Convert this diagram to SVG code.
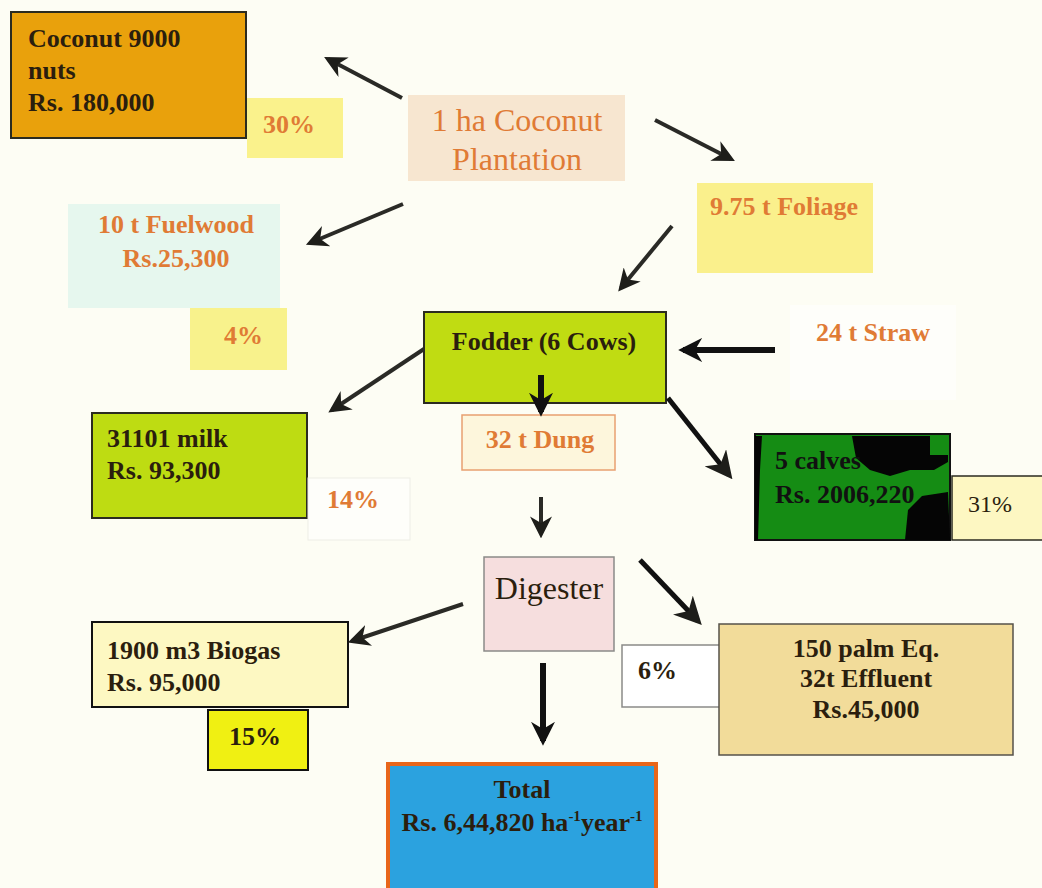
<svg xmlns="http://www.w3.org/2000/svg" width="1042" height="888" viewBox="0 0 1042 888">
<style>
.b{font-family:"Liberation Serif","Times New Roman",serif;font-weight:bold;font-size:26px}
.n{font-family:"Liberation Serif","Times New Roman",serif;font-weight:normal}
.dk{fill:#2B1E0E}
.or{fill:#E07B35}
.con{fill:none;stroke:#2A2A26;stroke-width:4}
.thick{stroke:#111;stroke-width:6}
</style>
<defs>
<marker id="ah" viewBox="0 0 10 10" refX="8" refY="5" markerWidth="5.5" markerHeight="5.5" orient="auto" markerUnits="strokeWidth">
<path d="M0,0 L10,5 L0,10 L3,5 z" fill="#1E1E1A"/>
</marker>
<marker id="ah2" viewBox="0 0 10 10" refX="8" refY="5" markerWidth="4" markerHeight="4" orient="auto" markerUnits="strokeWidth">
<path d="M0,0 L10,5 L0,10 L3,5 z" fill="#111"/>
</marker>
</defs>
<rect width="1042" height="888" fill="#FDFDF4"/>

<g id="coconut">
<rect x="11" y="12" width="235" height="126" fill="#E9A10C" stroke="#2B2B20" stroke-width="2"/>
<text class="b dk" x="28" y="47">Coconut 9000</text>
<text class="b dk" x="28" y="79">nuts</text>
<text class="b dk" x="28" y="111">Rs. 180,000</text>
</g>
<g id="pct30">
<rect x="247" y="98" width="96" height="60" fill="#FAF28C"/>
<text class="b or" x="263" y="133" font-size="24">30%</text>
</g>
<g id="plantation">
<rect x="408" y="95" width="217" height="86" fill="#F7E6D0"/>
<text class="n or" x="517" y="131" font-size="32" text-anchor="middle">1 ha Coconut</text>
<text class="n or" x="517" y="170" font-size="32" text-anchor="middle">Plantation</text>
</g>
<g id="foliage">
<rect x="697" y="183" width="176" height="90" fill="#FAF08C"/>
<text class="b or" x="784" y="215" text-anchor="middle">9.75 t Foliage</text>
</g>
<g id="fuelwood">
<rect x="68" y="204" width="212" height="104" fill="#E6F7EE"/>
<text class="b or" x="176" y="233" text-anchor="middle">10 t Fuelwood</text>
<text class="b or" x="176" y="267" text-anchor="middle">Rs.25,300</text>
</g>
<g id="pct4">
<rect x="190" y="308" width="97" height="62" fill="#F8F28C"/>
<text class="b or" x="224" y="344" font-size="24">4%</text>
</g>
<g id="fodder">
<rect x="424" y="312" width="242" height="91" fill="#C0DC12" stroke="#2B2B20" stroke-width="2"/>
<text class="b dk" x="544" y="350" text-anchor="middle">Fodder (6 Cows)</text>
</g>
<g id="straw">
<rect x="790" y="305" width="166" height="95" fill="#FEFEFA"/>
<text class="b or" x="873" y="341" text-anchor="middle">24 t Straw</text>
</g>
<g id="milk">
<rect x="92" y="413" width="215" height="105" fill="#BEDC12" stroke="#2B2B20" stroke-width="2"/>
<text class="b dk" x="107" y="447">31101 milk</text>
<text class="b dk" x="107" y="479">Rs. 93,300</text>
</g>
<g id="pct14">
<rect x="308" y="478" width="102" height="62" fill="#FEFEFA" stroke="#EEEEE6" stroke-width="1"/>
<text class="b or" x="327" y="508" font-size="24">14%</text>
</g>
<g id="dung">
<rect x="462" y="415" width="153" height="55" fill="#FDF6DC" stroke="#E8A070" stroke-width="1.5"/>
<text class="b or" x="540" y="448" text-anchor="middle">32 t Dung</text>
</g>
<g id="calves">
<rect x="755" y="434" width="195" height="106" fill="#158C14" stroke="#111" stroke-width="2"/>
<path d="M852,436 L930,436 L930,455 L948,455 L948,462 L934,470 L910,470 L890,476 L870,470 L856,458 Z" fill="#050505"/>
<path d="M948,492 L922,496 L908,510 L905,540 L950,540 Z" fill="#050505"/>
<path d="M755,436 L762,436 L760,470 L758,540 L755,540 Z" fill="#050505"/>
<text class="b" x="775" y="469" fill="#111">5 calves</text>
<text class="b" x="775" y="503" fill="#111">Rs. 2006,220</text>
</g>
<g id="pct31">
<rect x="952" y="476" width="92" height="64" fill="#FDF7C2" stroke="#2B2B20" stroke-width="1.5"/>
<text class="n dk" x="968" y="512" font-size="24">31%</text>
</g>
<g id="digester">
<rect x="484" y="557" width="130" height="94" fill="#F6DEDE" stroke="#8A8A88" stroke-width="1.5"/>
<text class="n dk" x="549" y="599" font-size="32" text-anchor="middle">Digester</text>
</g>
<g id="biogas">
<rect x="92" y="622" width="256" height="85" fill="#FDF8C2" stroke="#111" stroke-width="2"/>
<text class="b dk" x="107" y="659">1900 m3 Biogas</text>
<text class="b dk" x="107" y="691">Rs. 95,000</text>
</g>
<g id="pct15">
<rect x="208" y="710" width="100" height="60" fill="#F0F012" stroke="#111" stroke-width="2"/>
<text class="b dk" x="229" y="745" font-size="24">15%</text>
</g>
<g id="pct6">
<rect x="622" y="645" width="98" height="62" fill="#FFFFFF" stroke="#8A8A88" stroke-width="1.5"/>
<text class="b dk" x="638" y="679" font-size="24">6%</text>
</g>
<g id="effluent">
<rect x="719" y="624" width="294" height="131" fill="#F2DC9A" stroke="#55524A" stroke-width="1.5"/>
<text class="b dk" x="866" y="657" text-anchor="middle">150 palm Eq.</text>
<text class="b dk" x="866" y="687" text-anchor="middle">32t Effluent</text>
<text class="b dk" x="866" y="718" text-anchor="middle">Rs.45,000</text>
</g>
<g id="total">
<rect x="388" y="764" width="268" height="126" fill="#2BA2DF" stroke="#E8661A" stroke-width="4"/>
<text class="b dk" x="522" y="798" text-anchor="middle">Total</text>
<text class="b dk" x="522" y="831" text-anchor="middle">Rs. 6,44,820 ha<tspan font-size="15" dy="-10">-1</tspan><tspan dy="10">year</tspan><tspan font-size="15" dy="-10">-1</tspan></text>
</g>

<g id="connectors">
<path class="con" d="M402,98 L328,59" marker-end="url(#ah)"/>
<path class="con" d="M655,120 L731,159" marker-end="url(#ah)"/>
<path class="con" d="M403,204 L310,243" marker-end="url(#ah)"/>
<path class="con" d="M672,226 L621,288" marker-end="url(#ah)"/>
<path class="con thick" d="M775,350 L683,350" marker-end="url(#ah2)"/>
<path class="con" d="M424,349 L332,410" marker-end="url(#ah)"/>
<path class="con thick" d="M541,375 L541,412" marker-end="url(#ah2)"/>
<path class="con" style="stroke:#111;stroke-width:5" d="M668,398 L729,475" marker-end="url(#ah)"/>
<path class="con" d="M541,497 L541,534" marker-end="url(#ah)"/>
<path class="con" d="M463,604 L352,641" marker-end="url(#ah)"/>
<path class="con thick" d="M543,663 L543,741" marker-end="url(#ah2)"/>
<path class="con" style="stroke:#111;stroke-width:5" d="M640,560 L698,621" marker-end="url(#ah)"/>
</g>
</svg>
